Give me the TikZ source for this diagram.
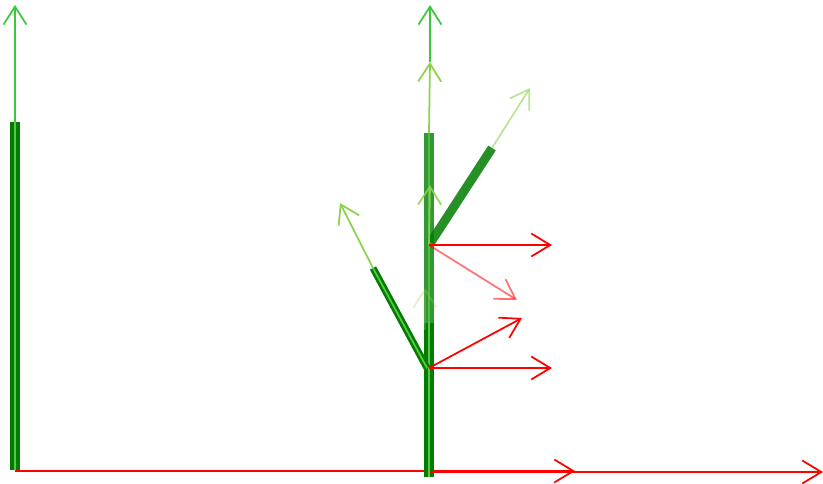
\documentclass[tikz,border=0pt]{standalone}
\usepackage{tikz}
\usepackage{xcolor}
\usetikzlibrary{arrows.meta}
\definecolor{Stem_Dark}{RGB}{0,125,0}
\definecolor{Stem_Core}{RGB}{90,200,70}
\definecolor{Grow_Green}{RGB}{60,200,60}
\definecolor{Leaf_Green}{RGB}{140,210,80}
\definecolor{Force_Red}{RGB}{255,0,0}

\begin{document}
\begin{tikzpicture}[x=0.02cm, y=-0.02cm,
    stem/.style={draw=Stem_Dark, line width=0.19cm},
    stemcore/.style={draw=Stem_Core, line width=0.05cm},
    growup/.style={draw=Grow_Green, line width=0.035cm, -{Straight Barb[length=0.36cm,width=0.46cm]}},
    leafarrow/.style={draw=Leaf_Green, line width=0.035cm, -{Straight Barb[length=0.36cm,width=0.46cm]}},
    force/.style={draw=Force_Red, line width=0.035cm, -{Straight Barb[length=0.38cm,width=0.46cm]}}]

    % canvas is 823 x 484 px, y grows downward
    \useasboundingbox (0,0) rectangle (823,484);

    % === Plant A: single stem at x = 15 ===
    \coordinate (a base) at (15,470);
    \coordinate (a tip) at (15,122);
    \coordinate (a up) at (15,5);
    \coordinate (a ground) at (15,471);
    \coordinate (a push) at (575,471);
    \draw[stem] (a base) -- (a tip);
    \draw[stemcore] (a base) -- (a tip);
    \draw[growup] (a tip) -- (a up);
    \draw[force] (a ground) -- (a push);

    % === Plant B: stem at x = 429 with two branches ===
    \coordinate (b base) at (429,477);
    \coordinate (b low) at (429,368);
    \coordinate (b mid) at (429,245);
    \coordinate (b fade) at (429,323);
    \coordinate (b tip) at (429,133);
    \coordinate (b ground) at (430,472);
    \coordinate (b push) at (823,472);

    % lower stem
    \draw[stem] (b base) -- (b low) -- (b fade);
    \draw[stemcore] (b base) -- (b fade);
    % upper stem, half grown
    \draw[stem, opacity=0.8] (b fade) -- (b tip);
    \draw[stemcore, opacity=0.8] (b fade) -- (b tip);

    % left branch
    \coordinate (bl end) at (373,268);
    \coordinate (bl up) at (340,203);
    \draw[stem, line width=0.14cm] (427,368) -- (bl end);
    \draw[stemcore, line width=0.035cm] (427,368) -- (bl end);
    \draw[leafarrow] (bl end) -- (bl up);

    % right branch
    \coordinate (br start) at (431,242);
    \coordinate (br end) at (492,148);
    \coordinate (br up) at (530,88);
    \draw[stem, line width=0.18cm, opacity=0.85] (br start) -- (br end);
    \draw[leafarrow, opacity=0.6] (br end) -- (br up);

    % growth arrows on the stem
    \coordinate (b up) at (430,5);
    \coordinate (b next) at (430,62);
    \coordinate (b step) at (430,185);
    \coordinate (b ghost) at (425,288);
    \draw[leafarrow, opacity=0.3] (425,330) -- (b ghost);
    \draw[leafarrow, opacity=0.9] (b mid) -- (b step);
    \draw[leafarrow] (b tip) -- (b next);
    \draw[growup] (b next) -- (b up);

    % forces
    \coordinate (f mid right) at (552,245);
    \coordinate (f mid down) at (517,300);
    \coordinate (f low up) at (522,318);
    \coordinate (f low right) at (552,368);
    \draw[force] (b mid) -- (f mid right);
    \draw[force, opacity=0.55] (b mid) -- (f mid down);
    \draw[force] (b low) -- (f low up);
    \draw[force] (b low) -- (f low right);
    \draw[force] (b ground) -- (b push);

\end{tikzpicture}
\end{document}
